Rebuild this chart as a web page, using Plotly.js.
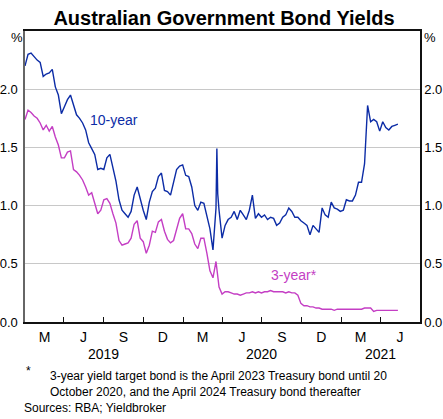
<!DOCTYPE html>
<html>
<head>
<meta charset="utf-8">
<script src="https://cdn.plot.ly/plotly-3.0.1.min.js"></script>
<style>
html,body{margin:0;padding:0;background:#fff;}
#chart{width:443px;height:419px;}
</style>
</head>
<body>
<div id="chart"></div>
<script>
// Weekly observations starting 2019-01-01 (values in per cent)
const seriesStart = '2019-01-01';
const tenYear = [
  2.20,2.30,2.31,2.28,2.25,2.23,2.11,2.13,2.14,2.17,
  2.02,1.95,1.79,1.85,1.91,1.95,1.87,1.78,1.75,1.71,
  1.65,1.54,1.49,1.44,1.31,1.32,1.31,1.41,1.44,1.32,
  1.21,1.05,0.96,0.93,0.90,0.95,1.09,1.16,1.05,0.96,
  0.88,1.03,1.12,1.15,1.25,1.28,1.13,1.12,1.09,1.19,
  1.31,1.34,1.35,1.26,1.25,1.16,1.00,0.96,1.03,1.02,
  0.92,0.80,0.62,0.98,0.96,0.72,0.83,0.88,0.90,0.95,
  0.88,0.96,0.92,0.88,0.96,1.09,0.89,0.93,0.90,0.92,
  0.88,0.90,0.89,0.83,0.85,0.90,0.92,0.98,0.95,0.90,
  0.90,0.87,0.85,0.83,0.75,0.83,0.80,0.77,0.98,0.92,
  0.90,1.03,0.98,0.97,0.95,0.96,1.05,1.04,1.04,1.09,
  1.20,1.20,1.36,1.86,1.72,1.74,1.72,1.64,1.72,1.67,
  1.65,1.68,1.69,1.70
];
const threeYear = [
  1.74,1.82,1.80,1.77,1.75,1.71,1.65,1.69,1.64,1.68,
  1.59,1.52,1.41,1.41,1.46,1.47,1.31,1.29,1.26,1.22,
  1.16,1.09,1.11,1.03,0.93,0.96,1.05,1.06,1.02,0.93,
  0.85,0.70,0.66,0.67,0.68,0.72,0.84,0.87,0.72,0.69,
  0.59,0.66,0.78,0.77,0.86,0.88,0.78,0.71,0.68,0.70,
  0.79,0.89,0.93,0.80,0.80,0.76,0.67,0.63,0.72,0.72,
  0.59,0.44,0.38,0.52,0.30,0.24,0.26,0.26,0.25,0.24,
  0.24,0.23,0.24,0.25,0.25,0.26,0.25,0.26,0.25,0.26,
  0.26,0.27,0.26,0.26,0.26,0.26,0.25,0.26,0.25,0.25,
  0.23,0.16,0.14,0.14,0.13,0.13,0.12,0.12,0.11,0.11,
  0.11,0.11,0.10,0.11,0.11,0.11,0.11,0.11,0.11,0.11,
  0.11,0.11,0.12,0.12,0.12,0.09,0.10,0.10,0.10,0.10,
  0.10,0.10,0.10,0.10
];
// Extra daily observations around the March 2020 spike (10-year)
const tenYearExtraDates = ['2020-03-19','2020-03-21'];
const tenYearExtraValues = [1.49, 1.10];

const quarterStarts = ['2019-04-01','2019-07-01','2019-10-01','2020-01-01','2020-04-01','2020-07-01','2020-10-01','2021-01-01','2021-04-01'];
const monthLabelDates = ['2019-02-15','2019-05-16','2019-08-16','2019-11-15','2020-02-15','2020-05-16','2020-08-16','2020-11-15','2021-02-14','2021-05-16'];
const monthLabels = ['M','J','S','D','M','J','S','D','M','J'];
const yearLabelDates = ['2019-07-02','2020-07-01','2021-04-01'];
const yearLabels = ['2019','2020','2021'];
const yTicks = [0,0.5,1.0,1.5,2.0];

function weekDates(n){
  const t0 = Date.parse(seriesStart+'T00:00:00Z');
  const out=[];
  for(let i=0;i<n;i++){ out.push(new Date(t0+i*7*86400000).toISOString().slice(0,10)); }
  return out;
}
function merge(d,v,ed,ev){
  const pts=d.map((x,i)=>[x,v[i]]).concat(ed.map((x,i)=>[x,ev[i]]));
  pts.sort((a,b)=>a[0]<b[0]?-1:a[0]>b[0]?1:0);
  return {x:pts.map(p=>p[0]), y:pts.map(p=>p[1])};
}
const t10 = merge(weekDates(tenYear.length), tenYear, tenYearExtraDates, tenYearExtraValues);
const d3 = weekDates(threeYear.length);

const FONT = 'Arial, "Liberation Sans", sans-serif';
const BLUE = '#0c2ca6';
const MAG = '#c43ec4';

const traces = [
  {x:d3, y:threeYear, type:'scatter', mode:'lines', line:{color:MAG, width:1.4}, hoverinfo:'skip'},
  {x:t10.x, y:t10.y, type:'scatter', mode:'lines', line:{color:BLUE, width:1.4}, hoverinfo:'skip'},
  {x:d3, y:threeYear, type:'scatter', mode:'lines', yaxis:'y2', line:{color:'rgba(0,0,0,0)', width:0}, hoverinfo:'skip'}
];

const PH = 291;
function py(pix){ return (322-pix)/PH; }
function px(pix){ return (pix-25)/395; }

const annotations = [
  {text:'%', xref:'paper', yref:'paper', x:px(16.5), y:py(37), showarrow:false, font:{family:FONT,size:13,color:'#000'}, xanchor:'center', yanchor:'middle'},
  {text:'%', xref:'paper', yref:'paper', x:px(430), y:py(37), showarrow:false, font:{family:FONT,size:13,color:'#000'}, xanchor:'center', yanchor:'middle'},
  {text:'10-year', xref:'x', yref:'y', x:'2019-07-26', y:1.735, showarrow:false, font:{family:FONT,size:14,color:BLUE}, xanchor:'center', yanchor:'middle'},
  {text:'3-year*', xref:'x', yref:'y', x:'2020-09-12', y:0.40, showarrow:false, font:{family:FONT,size:14,color:MAG}, xanchor:'center', yanchor:'middle'},
  {text:'*', xref:'paper', yref:'paper', x:px(24), y:py(371), showarrow:false, font:{family:FONT,size:12,color:'#000'}, xanchor:'left', yanchor:'middle'},
  {text:'3-year yield target bond is the April 2023 Treasury bond until 20', xref:'paper', yref:'paper', x:px(48), y:py(376), showarrow:false, font:{family:FONT,size:12,color:'#000'}, xanchor:'left', yanchor:'middle'},
  {text:'October 2020, and the April 2024 Treasury bond thereafter', xref:'paper', yref:'paper', x:px(48), y:py(392), showarrow:false, font:{family:FONT,size:12,color:'#000'}, xanchor:'left', yanchor:'middle'},
  {text:'Sources: RBA; Yieldbroker', xref:'paper', yref:'paper', x:px(22), y:py(408), showarrow:false, font:{family:FONT,size:12,color:'#000'}, xanchor:'left', yanchor:'middle'}
];
yearLabels.forEach((t,i)=>annotations.push({text:t, xref:'x', yref:'paper', x:yearLabelDates[i], y:py(354), showarrow:false, font:{family:FONT,size:14,color:'#000'}, xanchor:'center', yanchor:'middle'}));

const layout = {
  width:443, height:419,
  margin:{l:25, r:23, t:31, b:97, pad:0},
  paper_bgcolor:'#fff', plot_bgcolor:'#fff',
  showlegend:false,
  title:{text:'<b>Australian Government Bond Yields</b>', font:{family:FONT, size:20, color:'#000', weight:'bold'}, x:224/443, xref:'container', xanchor:'center', y:1-18/419, yref:'container', yanchor:'middle'},
  xaxis:{
    type:'date', range:['2019-01-01','2021-07-01'],
    tickmode:'array', tickvals:monthLabelDates, ticktext:monthLabels, ticks:'',
    tickfont:{family:FONT, size:14, color:'#000'}, ticklabelstandoff:2,
    showgrid:false, zeroline:false,
    showline:true, linecolor:'#111', linewidth:1.6, mirror:true,
    minor:{tickmode:'array', tickvals:quarterStarts, ticks:'inside', ticklen:5, tickwidth:1, tickcolor:'#111', showgrid:false},
    fixedrange:true
  },
  yaxis:{
    range:[0,2.5], tickmode:'array', tickvals:yTicks, tickformat:'.1f', ticks:'',
    tickfont:{family:FONT, size:13, color:'#000'}, ticklabelstandoff:3,
    showgrid:true, gridcolor:'#c8c8c8', gridwidth:1, zeroline:false,
    showline:true, linecolor:'#666', linewidth:1.6, fixedrange:true
  },
  yaxis2:{
    overlaying:'y', side:'right', range:[0,2.5], tickmode:'array', tickvals:yTicks, tickformat:'.1f', ticks:'',
    tickfont:{family:FONT, size:13, color:'#000'}, ticklabelstandoff:0,
    showgrid:false, zeroline:false, showline:true, linecolor:'#111', linewidth:1.6, fixedrange:true
  },
  annotations:annotations
};

Plotly.newPlot('chart', traces, layout, {staticPlot:true, displayModeBar:false});
</script>
</body>
</html>
